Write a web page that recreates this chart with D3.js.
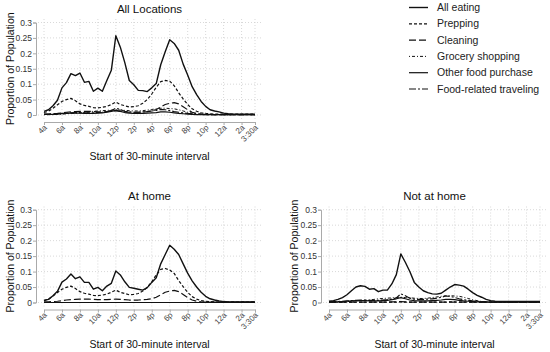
<!DOCTYPE html>
<html><head><meta charset="utf-8">
<script src="https://cdn.jsdelivr.net/npm/d3@7"></script>
<style>body{margin:0;background:#fff}svg{display:block}</style>
</head><body>
<svg id="c" width="550" height="352"></svg>
<script>
// ---- data ----
const tickLabels = ["4a","6a","8a","10a","12p","2p","4p","6p","8p","10p","12a","2a","3:30a"];
const tickIndex  = [0,4,8,12,16,20,24,28,32,36,40,44,47];
const yTicks = [0,0.05,0.1,0.15,0.2,0.25,0.3];
const seriesNames = ["All eating","Prepping","Cleaning","Grocery shopping","Other food purchase","Food-related traveling"];

const eatAll = [0.012,0.017,0.030,0.048,0.088,0.105,0.134,0.128,0.136,0.106,0.109,0.077,0.087,0.077,0.112,0.145,0.257,0.220,0.170,0.112,0.098,0.080,0.079,0.076,0.088,0.102,0.163,0.205,0.244,0.232,0.210,0.165,0.130,0.092,0.066,0.044,0.028,0.017,0.013,0.010,0.006,0.004,0.003,0.003,0.003,0.003,0.003,0.003];
const prepAll = [0.008,0.012,0.022,0.033,0.044,0.050,0.054,0.046,0.036,0.031,0.028,0.024,0.023,0.025,0.028,0.034,0.042,0.034,0.030,0.026,0.027,0.030,0.038,0.050,0.068,0.090,0.108,0.112,0.110,0.095,0.072,0.052,0.034,0.020,0.012,0.007,0.005,0.004,0.003,0.003,0.003,0.003,0.003,0.003,0.003,0.003,0.003,0.003];
const cleanAll = [0.003,0.003,0.004,0.005,0.007,0.009,0.010,0.011,0.012,0.012,0.012,0.011,0.010,0.010,0.011,0.013,0.014,0.012,0.010,0.009,0.009,0.009,0.010,0.011,0.013,0.018,0.026,0.034,0.038,0.040,0.036,0.027,0.017,0.009,0.005,0.003,0.002,0.002,0.001,0.001,0.001,0.001,0.001,0.001,0.001,0.001,0.001,0.001];
const groceryAll = [0.001,0.001,0.001,0.002,0.003,0.004,0.005,0.006,0.007,0.008,0.010,0.012,0.013,0.014,0.015,0.016,0.017,0.016,0.015,0.014,0.013,0.013,0.014,0.016,0.018,0.020,0.022,0.022,0.021,0.020,0.017,0.013,0.009,0.006,0.003,0.002,0.001,0.001,0.001,0.001,0.001,0.001,0.001,0.001,0.001,0.001,0.001,0.001];
const otherAll = [0.002,0.002,0.002,0.003,0.004,0.005,0.006,0.006,0.006,0.005,0.005,0.005,0.006,0.007,0.009,0.012,0.015,0.012,0.008,0.006,0.005,0.005,0.005,0.006,0.007,0.008,0.010,0.010,0.009,0.007,0.005,0.004,0.003,0.002,0.001,0.001,0.001,0.001,0.001,0.001,0.001,0.001,0.001,0.001,0.001,0.001,0.001,0.001];
const travelAll = [0.002,0.002,0.003,0.004,0.005,0.006,0.007,0.008,0.008,0.007,0.007,0.007,0.008,0.009,0.011,0.014,0.022,0.018,0.012,0.010,0.009,0.009,0.010,0.011,0.013,0.015,0.018,0.017,0.014,0.011,0.009,0.007,0.005,0.004,0.003,0.002,0.001,0.001,0.001,0.001,0.001,0.001,0.001,0.001,0.001,0.001,0.001,0.001];

const eatHome = [0.006,0.010,0.022,0.036,0.066,0.076,0.092,0.077,0.083,0.065,0.065,0.043,0.049,0.038,0.053,0.062,0.102,0.089,0.067,0.049,0.046,0.043,0.040,0.048,0.065,0.080,0.125,0.155,0.185,0.172,0.155,0.125,0.095,0.070,0.050,0.033,0.020,0.012,0.008,0.005,0.003,0.002,0.002,0.002,0.002,0.002,0.002,0.002];
const prepHome = [0.007,0.011,0.021,0.032,0.043,0.049,0.053,0.045,0.035,0.030,0.027,0.023,0.022,0.024,0.027,0.033,0.040,0.033,0.029,0.025,0.026,0.029,0.037,0.049,0.067,0.089,0.107,0.110,0.105,0.094,0.071,0.051,0.033,0.019,0.011,0.006,0.004,0.003,0.002,0.002,0.002,0.002,0.002,0.002,0.002,0.002,0.002,0.002];
const cleanHome = [0.002,0.002,0.003,0.004,0.006,0.008,0.009,0.010,0.011,0.011,0.011,0.010,0.009,0.009,0.009,0.010,0.011,0.010,0.009,0.008,0.008,0.008,0.009,0.010,0.012,0.017,0.025,0.033,0.037,0.039,0.035,0.026,0.016,0.008,0.004,0.002,0.001,0.001,0.001,0.001,0.001,0.001,0.001,0.001,0.001,0.001,0.001,0.001];
const groceryHome = [0,0,0,0,0,0,0,0,0,0,0,0,0,0,0,0,0,0,0,0,0,0,0,0,0,0,0,0,0,0,0,0,0,0,0,0,0,0,0,0,0,0,0,0,0,0,0,0];
const otherHome = [0,0,0,0,0,0,0,0,0,0,0,0,0,0,0,0,0,0,0,0,0,0,0,0,0,0,0,0,0,0,0,0,0,0,0,0,0,0,0,0,0,0,0,0,0,0,0,0];
const travelHome = [0,0,0,0,0,0,0,0,0,0,0,0,0,0,0,0,0,0,0,0,0,0,0,0,0,0,0,0,0,0,0,0,0,0,0,0,0,0,0,0,0,0,0,0,0,0,0,0];

const eatAway = [0.004,0.006,0.010,0.016,0.025,0.038,0.050,0.054,0.052,0.043,0.045,0.035,0.040,0.040,0.060,0.090,0.157,0.130,0.100,0.065,0.050,0.038,0.032,0.028,0.027,0.030,0.040,0.050,0.058,0.056,0.053,0.043,0.032,0.023,0.017,0.010,0.006,0.004,0.003,0.003,0.003,0.003,0.003,0.003,0.003,0.003,0.003,0.003];
const prepAway = [0.001,0.001,0.001,0.001,0.001,0.001,0.001,0.001,0.001,0.001,0.001,0.001,0.001,0.001,0.001,0.001,0.002,0.001,0.001,0.001,0.001,0.001,0.001,0.001,0.001,0.001,0.001,0.002,0.002,0.001,0.001,0.001,0.001,0.001,0.001,0.001,0.001,0.001,0.001,0.001,0.001,0.001,0.001,0.001,0.001,0.001,0.001,0.001];
const cleanAway = [0.001,0.001,0.001,0.001,0.001,0.001,0.001,0.001,0.001,0.001,0.001,0.001,0.001,0.001,0.002,0.002,0.003,0.002,0.001,0.001,0.001,0.001,0.001,0.001,0.001,0.001,0.001,0.001,0.001,0.001,0.001,0.001,0.001,0.001,0.001,0.001,0.001,0.001,0.001,0.001,0.001,0.001,0.001,0.001,0.001,0.001,0.001,0.001];
const groceryAway = [0.001,0.001,0.001,0.002,0.003,0.004,0.005,0.006,0.007,0.008,0.010,0.012,0.013,0.014,0.015,0.016,0.017,0.016,0.015,0.014,0.013,0.013,0.014,0.016,0.018,0.020,0.022,0.022,0.021,0.020,0.017,0.013,0.009,0.006,0.003,0.002,0.001,0.001,0.001,0.001,0.001,0.001,0.001,0.001,0.001,0.001,0.001,0.001];
const otherAway = [0.002,0.002,0.002,0.003,0.004,0.005,0.006,0.006,0.006,0.005,0.005,0.005,0.006,0.007,0.009,0.012,0.016,0.012,0.008,0.006,0.005,0.005,0.005,0.006,0.007,0.008,0.010,0.010,0.009,0.007,0.005,0.004,0.003,0.002,0.001,0.001,0.001,0.001,0.001,0.001,0.001,0.001,0.001,0.001,0.001,0.001,0.001,0.001];
const travelAway = [0.002,0.002,0.003,0.004,0.005,0.006,0.007,0.008,0.008,0.007,0.007,0.007,0.008,0.009,0.011,0.015,0.028,0.022,0.014,0.011,0.010,0.010,0.011,0.012,0.014,0.017,0.021,0.020,0.016,0.012,0.009,0.007,0.005,0.004,0.003,0.002,0.001,0.001,0.001,0.001,0.001,0.001,0.001,0.001,0.001,0.001,0.001,0.001];

// ---- styles ----
const styles = [
  {dash:null,       w:1.4},
  {dash:"3,2",      w:1.2},
  {dash:"7,3",      w:1.2},
  {dash:"1,2,3,2",  w:1.0},
  {dash:null,       w:1.2},
  {dash:"7,2,2,2",  w:1.2}
];
const FONT = "'Liberation Sans', Arial, sans-serif";
const svg = d3.select("#c");

const panels = [
  {title:"All Locations", series:[eatAll,prepAll,cleanAll,groceryAll,otherAll,travelAll], left:44, right:255, bottom:115, top:22.5, ylabX:10},
  {title:"At home",       series:[eatHome,prepHome,cleanHome,groceryHome,otherHome,travelHome], left:44, right:255, bottom:302.5, top:209.7, ylabX:10},
  {title:"Not at home",   series:[eatAway,prepAway,cleanAway,groceryAway,otherAway,travelAway], left:329, right:540, bottom:302.5, top:209.7, ylabX:294}
];

panels.forEach(p => {
  const x = d3.scaleLinear().domain([0,47]).range([p.left,p.right]);
  const y = d3.scaleLinear().domain([0,0.3]).range([p.bottom,p.top]);
  const g = svg.append("g");

  // grid
  g.selectAll(".hg").data(yTicks).join("line")
    .attr("x1", p.left-6).attr("x2", p.right+6)
    .attr("y1", d=>y(d)).attr("y2", d=>y(d))
    .attr("stroke","#cfcfcf").attr("stroke-width",0.8).attr("stroke-dasharray","1,2");
  g.selectAll(".vg").data(tickIndex).join("line")
    .attr("x1", d=>x(d)).attr("x2", d=>x(d))
    .attr("y1", p.bottom+4).attr("y2", p.top-4)
    .attr("stroke","#cfcfcf").attr("stroke-width",0.8).attr("stroke-dasharray","1,2");

  // x axis
  const xa = g.append("g").attr("transform",`translate(0,${p.bottom+7})`)
    .call(d3.axisBottom(x).tickValues(tickIndex).tickSize(3).tickFormat((d,i)=>tickLabels[i]));
  xa.select(".domain").attr("stroke","#aaa");
  xa.selectAll(".tick line").attr("stroke","#aaa");
  xa.selectAll("text").attr("font-family",FONT).attr("font-size",8).attr("fill","#444")
    .attr("text-anchor","end").attr("dy",0).attr("y",0)
    .attr("transform","translate(3,6) rotate(-45)");

  // y axis
  const ya = g.append("g").attr("transform",`translate(${p.left-8},0)`)
    .call(d3.axisLeft(y).tickValues(yTicks).tickSize(3).tickFormat(d=>d3.format("")(+d.toFixed(2))));
  ya.select(".domain").attr("stroke","#aaa");
  ya.selectAll(".tick line").attr("stroke","#aaa");
  ya.selectAll("text").attr("font-family",FONT).attr("font-size",8.5).attr("fill","#333").attr("x",-4);

  // lines
  const line = d3.line().x((d,i)=>x(i)).y(d=>y(d));
  p.series.slice().reverse().forEach((s,ri) => {
    const k = p.series.length-1-ri;
    g.append("path").datum(s).attr("d", line).attr("fill","none")
      .attr("stroke","#111").attr("stroke-width",styles[k].w)
      .attr("stroke-dasharray",styles[k].dash).attr("stroke-linejoin","round");
  });

  // titles
  g.append("text").attr("x",(p.left+p.right)/2).attr("y",p.top-10).attr("text-anchor","middle")
    .attr("font-family",FONT).attr("font-size",11.5).attr("fill","#111").text(p.title);
  g.append("text").attr("x",(p.left+p.right)/2).attr("y",p.bottom+45).attr("text-anchor","middle")
    .attr("font-family",FONT).attr("font-size",10.5).attr("fill","#111").text("Start of 30-minute interval");
  g.append("text").attr("transform",`translate(${p.ylabX},${(p.top+p.bottom)/2}) rotate(-90)`)
    .attr("text-anchor","middle").attr("dy","0.35em")
    .attr("font-family",FONT).attr("font-size",10.5).attr("fill","#111").text("Proportion of Population");
});

// legend
const lg = svg.append("g");
seriesNames.forEach((n,i) => {
  const yy = 7.5 + i*16.3;
  lg.append("line").attr("x1",409).attr("x2",428).attr("y1",yy).attr("y2",yy)
    .attr("stroke","#111").attr("stroke-width",styles[i].w).attr("stroke-dasharray",styles[i].dash);
  lg.append("text").attr("x",437).attr("y",yy).attr("dy","0.35em")
    .attr("font-family",FONT).attr("font-size",10.5).attr("fill","#222").text(n);
});
</script>
</body></html>
